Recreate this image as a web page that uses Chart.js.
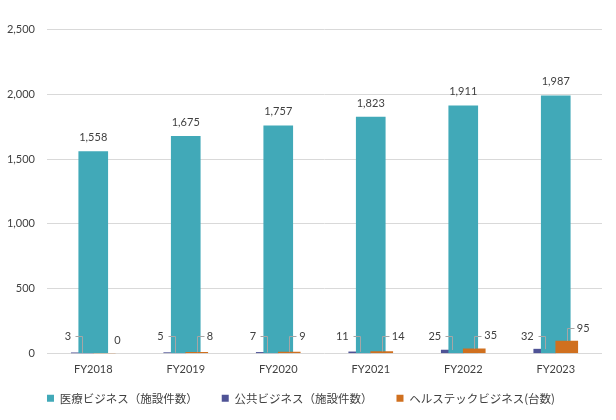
<!DOCTYPE html>
<html>
<head>
<meta charset="utf-8">
<script src="https://cdn.jsdelivr.net/npm/chart.js@4/dist/chart.umd.min.js"></script>
<style>
  html, body { margin: 0; padding: 0; background: #ffffff; }
  .wrap { width: 616px; height: 420px; }
</style>
</head>
<body>
<div class="wrap"><canvas id="business_chart"></canvas></div>
<script>
const categories = ['FY2018', 'FY2019', 'FY2020', 'FY2021', 'FY2022', 'FY2023'];
const seriesNames = ['医療ビジネス（施設件数）', '公共ビジネス（施設件数）', 'ヘルステックビジネス(台数)'];
const medicalValues = [1558, 1675, 1757, 1823, 1911, 1987];
const publicValues = [3, 5, 7, 11, 25, 32];
const healthtechValues = [0, 8, 9, 14, 35, 95];
const yTicks = [0, 500, 1000, 1500, 2000, 2500];

const textColor = '#404040';
const numFont = 'Lato, "Noto Sans CJK JP", sans-serif';

// purple has to sit under the teal bar, orange over it
const layering = {
    id: 'layering',
    beforeDatasetDraw(chart, args) {
        if (args.index === 1) return false;
        if (args.index === 0) chart.getDatasetMeta(1).controller.draw();
    }
};

// legend needs wide horizontal gaps but sits close to the axis labels
const legendNudge = {
    id: 'legendNudge',
    afterLayout(chart) {
        chart.legend.top -= 18;
        chart.legend.bottom -= 18;
    }
};

// value labels + the little grey leader lines for the small series
const valueLabels = {
    id: 'valueLabels',
    afterDatasetsDraw(chart) {
        const ctx = chart.ctx;
        const base = chart.scales.y.getPixelForValue(0);
        ctx.save();
        ctx.font = '11px ' + numFont;
        ctx.fillStyle = textColor;
        ctx.textBaseline = 'middle';
        ctx.strokeStyle = '#a6a6a6';
        ctx.lineWidth = 1;

        chart.getDatasetMeta(0).data.forEach((bar, i) => {
            ctx.textAlign = 'center';
            ctx.fillText(medicalValues[i].toLocaleString('en-US'), bar.x, bar.y - 14);
        });

        chart.getDatasetMeta(1).data.forEach((bar, i) => {
            const v = publicValues[i];
            const ly = v === 0 ? bar.y - 13 : Math.min(bar.y - 13, base - 17);
            ctx.textAlign = 'right';
            ctx.fillText(String(v), bar.x - 11, ly);
            if (v !== 0) {
                ctx.beginPath();
                ctx.moveTo(Math.round(bar.x - 7) + 0.5, Math.round(ly) + 0.5);
                ctx.lineTo(Math.round(bar.x) + 0.5, Math.round(ly) + 0.5);
                ctx.lineTo(Math.round(bar.x) + 0.5, bar.y);
                ctx.stroke();
            }
        });

        chart.getDatasetMeta(2).data.forEach((bar, i) => {
            const v = healthtechValues[i];
            const ly = v === 0 ? bar.y - 13 : Math.min(bar.y - 13, base - 17);
            ctx.textAlign = 'left';
            ctx.fillText(String(v), bar.x + 10, ly);
            if (v !== 0) {
                ctx.beginPath();
                ctx.moveTo(Math.round(bar.x) + 0.5, bar.y);
                ctx.lineTo(Math.round(bar.x) + 0.5, Math.round(ly) + 0.5);
                ctx.lineTo(Math.round(bar.x + 7) + 0.5, Math.round(ly) + 0.5);
                ctx.stroke();
            }
        });
        ctx.restore();
    }
};

new Chart(document.getElementById('business_chart'), {
    type: 'bar',
    data: {
        labels: categories,
        datasets: [
            {
                label: seriesNames[0],
                data: medicalValues,
                backgroundColor: '#41a9b8',
                grouped: false,
                barThickness: 29,
                maxBarThickness: 29,
                order: 2
            },
            {
                label: seriesNames[1],
                data: publicValues,
                backgroundColor: '#4f5396',
                barThickness: 22,
                order: 0
            },
            {
                label: seriesNames[2],
                data: healthtechValues,
                backgroundColor: '#d0701f',
                barThickness: 22,
                order: 1
            }
        ]
    },
    options: {
        responsive: true,
        maintainAspectRatio: false,
        animation: false,
        layout: { padding: { left: 0, right: 14, top: 29.5, bottom: -12 } },
        plugins: {
            tooltip: { enabled: false },
            legend: {
                position: 'bottom',
                labels: {
                    boxWidth: 7,
                    boxHeight: 7,
                    padding: 24,
                    color: textColor,
                    font: { family: '"Noto Sans CJK JP", sans-serif', size: 11.5 },
                    sort: (a, b) => a.datasetIndex - b.datasetIndex
                }
            }
        },
        scales: {
            x: {
                grid: { display: false, drawTicks: false },
                border: { display: false },
                ticks: { color: textColor, font: { family: numFont, size: 11 }, padding: 10 }
            },
            y: {
                min: 0,
                max: 2500,
                afterBuildTicks: (scale) => { scale.ticks = yTicks.map(v => ({ value: v })); },
                afterFit: (scale) => { scale.width = 47; },
                grid: { color: '#d9d9d9', drawTicks: false },
                border: { display: false },
                ticks: {
                    color: textColor,
                    font: { family: numFont, size: 11 },
                    padding: 12,
                    callback: (v) => Number(v).toLocaleString('en-US')
                }
            }
        }
    },
    plugins: [layering, legendNudge, valueLabels]
});
</script>
</body>
</html>
